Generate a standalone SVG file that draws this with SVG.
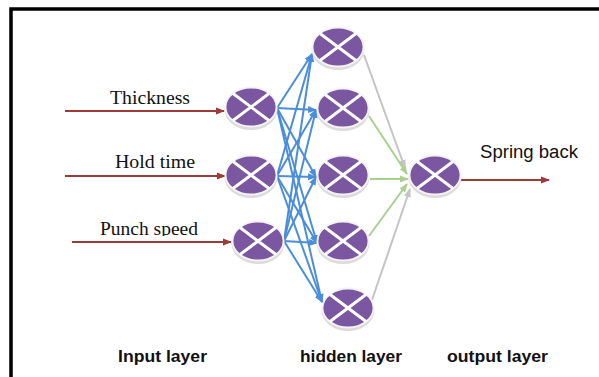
<svg xmlns="http://www.w3.org/2000/svg" xmlns:xlink="http://www.w3.org/1999/xlink" width="599" height="377" viewBox="0 0 599 377">
<style>
.serif{font-family:"Liberation Serif","Times New Roman",serif;font-size:19.5px;fill:#111}
.sans{font-family:"Liberation Sans",Arial,sans-serif;font-size:18px;fill:#111}
.bold{font-family:"Liberation Sans",Arial,sans-serif;font-size:16.5px;font-weight:bold;fill:#111}
.red{stroke:#9e3a38;stroke-width:2.2;fill:none}
.blue{stroke:#4a8edb;stroke-width:2;fill:none}
.gray{stroke:#c4c4c4;stroke-width:2;fill:none}
.green{stroke:#a9d18e;stroke-width:2;fill:none}
</style>
<defs>
<marker id="mRed" markerUnits="userSpaceOnUse" markerWidth="10" markerHeight="10" refX="8" refY="5" orient="auto"><path d="M0,1.5 L9,5 L0,8.5 Z" fill="#9e3a38"/></marker>
<marker id="mBlue" markerUnits="userSpaceOnUse" markerWidth="10" markerHeight="10" refX="8" refY="5" orient="auto"><path d="M0,1.5 L9,5 L0,8.5 Z" fill="#4a8edb"/></marker>
<marker id="mGray" markerUnits="userSpaceOnUse" markerWidth="10" markerHeight="10" refX="8" refY="5" orient="auto"><path d="M0,1.5 L9,5 L0,8.5 Z" fill="#c4c4c4"/></marker>
<marker id="mGreen" markerUnits="userSpaceOnUse" markerWidth="10" markerHeight="10" refX="8" refY="5" orient="auto"><path d="M0,1.5 L9,5 L0,8.5 Z" fill="#a9d18e"/></marker>
<g id="nodeShape">
<ellipse cx="0" cy="2.5" rx="26.5" ry="20.5" fill="#dcdcdc"/>
<ellipse cx="0" cy="0" rx="25.5" ry="19.5" fill="#7b56a1" stroke="#f4f4f4" stroke-width="1.8"/>
<path d="M-18,-13.5 L18,13.5 M-18,13.5 L18,-13.5" stroke="#ffffff" stroke-width="3"/>
</g>
<clipPath id="clipPunch"><rect x="90" y="210" width="120" height="26"/></clipPath>
</defs>
<rect x="0" y="0" width="599" height="377" fill="#ffffff"/>
<path d="M11,377 V9 H599" stroke="#000" stroke-width="3.5" fill="none"/>

<g id="connectors">
<line class="red" x1="65" y1="111" x2="224" y2="111" marker-end="url(#mRed)"/>
<line class="red" x1="65" y1="176" x2="225" y2="176" marker-end="url(#mRed)"/>
<line class="red" x1="72" y1="242" x2="231" y2="242" marker-end="url(#mRed)"/>
<line class="red" x1="461" y1="180" x2="549" y2="180" marker-end="url(#mRed)"/>

<line class="blue" x1="277" y1="108" x2="312" y2="54" marker-end="url(#mBlue)"/>
<line class="blue" x1="277" y1="108" x2="316" y2="110" marker-end="url(#mBlue)"/>
<line class="blue" x1="277" y1="108" x2="316" y2="177" marker-end="url(#mBlue)"/>
<line class="blue" x1="277" y1="108" x2="317" y2="243" marker-end="url(#mBlue)"/>
<line class="blue" x1="277" y1="108" x2="322" y2="302" marker-end="url(#mBlue)"/>
<line class="blue" x1="277" y1="176" x2="312" y2="54" marker-end="url(#mBlue)"/>
<line class="blue" x1="277" y1="176" x2="316" y2="110" marker-end="url(#mBlue)"/>
<line class="blue" x1="277" y1="176" x2="316" y2="177" marker-end="url(#mBlue)"/>
<line class="blue" x1="277" y1="176" x2="317" y2="243" marker-end="url(#mBlue)"/>
<line class="blue" x1="277" y1="176" x2="322" y2="302" marker-end="url(#mBlue)"/>
<line class="blue" x1="284" y1="241" x2="312" y2="54" marker-end="url(#mBlue)"/>
<line class="blue" x1="284" y1="241" x2="316" y2="110" marker-end="url(#mBlue)"/>
<line class="blue" x1="284" y1="241" x2="316" y2="177" marker-end="url(#mBlue)"/>
<line class="blue" x1="284" y1="241" x2="317" y2="243" marker-end="url(#mBlue)"/>
<line class="blue" x1="284" y1="241" x2="322" y2="302" marker-end="url(#mBlue)"/>

<line class="gray" x1="364" y1="55" x2="405" y2="168" marker-end="url(#mGray)"/>
<line class="green" x1="369" y1="116" x2="407" y2="174" marker-end="url(#mGreen)"/>
<line class="green" x1="370" y1="179" x2="408" y2="179" marker-end="url(#mGreen)"/>
<line class="green" x1="369" y1="236" x2="407" y2="184" marker-end="url(#mGreen)"/>
<line class="gray" x1="372" y1="300" x2="410" y2="189" marker-end="url(#mGray)"/>
</g>

<g id="in1"><use xlink:href="#nodeShape" href="#nodeShape" transform="translate(251,107)"/></g>
<g id="in2"><use xlink:href="#nodeShape" href="#nodeShape" transform="translate(251,175)"/></g>
<g id="in3"><use xlink:href="#nodeShape" href="#nodeShape" transform="translate(258,241)"/></g>
<g id="h1"><use xlink:href="#nodeShape" href="#nodeShape" transform="translate(338,47)"/></g>
<g id="h2"><use xlink:href="#nodeShape" href="#nodeShape" transform="translate(343,108)"/></g>
<g id="h3"><use xlink:href="#nodeShape" href="#nodeShape" transform="translate(343,175)"/></g>
<g id="h4"><use xlink:href="#nodeShape" href="#nodeShape" transform="translate(343,241)"/></g>
<g id="h5"><use xlink:href="#nodeShape" href="#nodeShape" transform="translate(348,308)"/></g>
<g id="out"><use xlink:href="#nodeShape" href="#nodeShape" transform="translate(435,175)"/></g>

<text class="serif" x="110" y="104" textLength="80" lengthAdjust="spacingAndGlyphs">Thickness</text>
<text class="serif" x="115" y="168" textLength="80" lengthAdjust="spacingAndGlyphs">Hold time</text>
<text class="serif" x="100" y="235" textLength="98" lengthAdjust="spacingAndGlyphs" clip-path="url(#clipPunch)">Punch speed</text>
<text class="sans" x="480" y="158" textLength="98" lengthAdjust="spacingAndGlyphs">Spring back</text>
<text class="bold" x="118" y="362" textLength="89" lengthAdjust="spacingAndGlyphs">Input layer</text>
<text class="bold" x="300" y="362" textLength="102" lengthAdjust="spacingAndGlyphs">hidden layer</text>
<text class="bold" x="447" y="362" textLength="101" lengthAdjust="spacingAndGlyphs">output layer</text>
</svg>
